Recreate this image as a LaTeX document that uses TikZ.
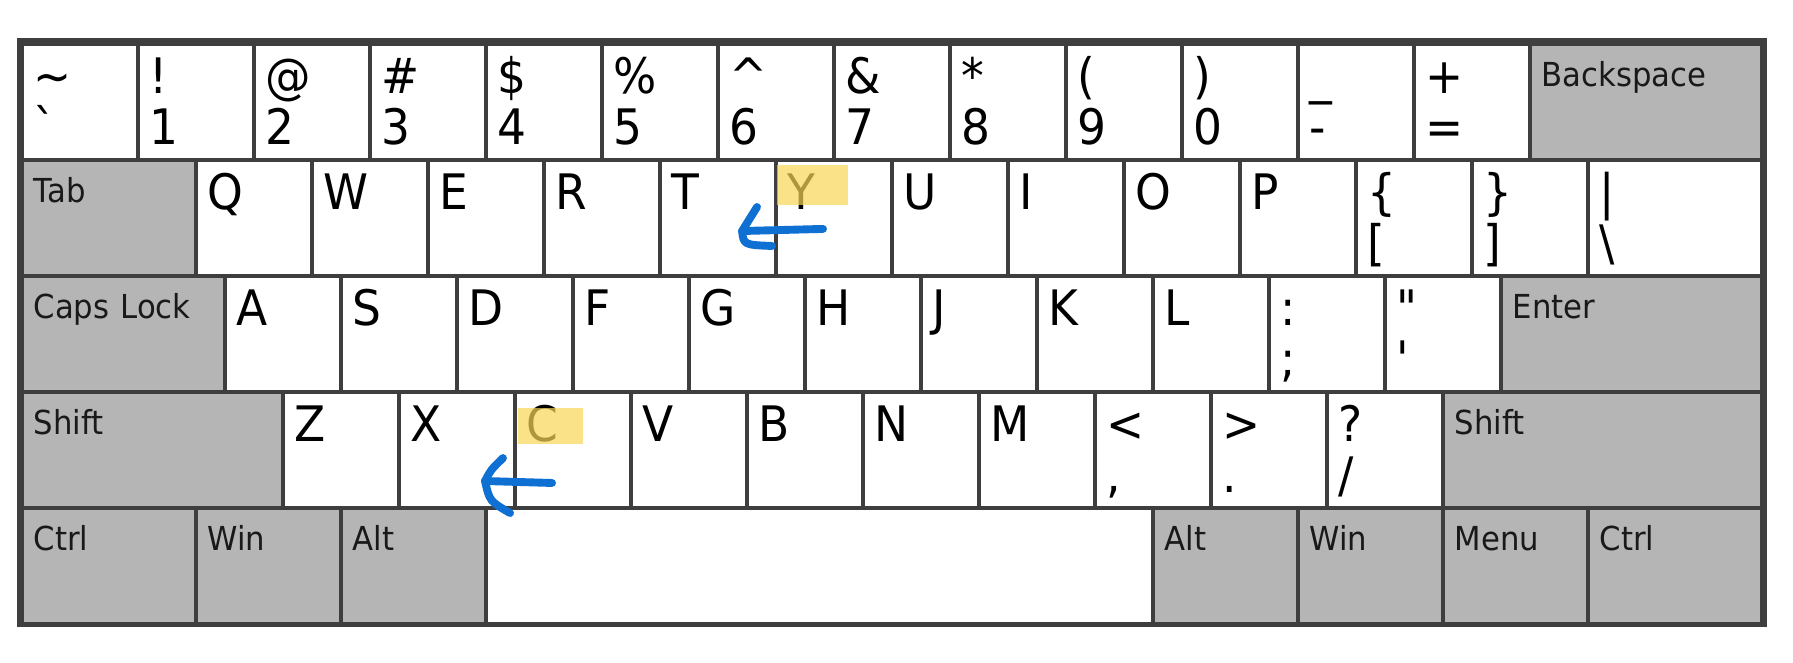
\documentclass[tikz,border=0pt]{standalone}
\usepackage{fontspec}
\setmainfont{DejaVu Sans}[FakeStretch=0.93]
\usepackage{tikz}
\definecolor{boardgray}{RGB}{62,62,62}
\definecolor{modgray}{RGB}{181,181,181}
\definecolor{markyellow}{RGB}{248,214,88}
\definecolor{penblue}{RGB}{14,112,210}

\begin{document}
\begin{tikzpicture}
            % Define styles - one key is a filled box, its label sits in the top left corner
            \tikzstyle{key} = [anchor=north west,xshift=0.0172cm,yshift=-0.0172cm,fill=white,inner xsep=0.085cm,inner ysep=0pt,align=left,text height=0.414cm,text depth=0.5515cm,font=\fontsize{12}{12.5}\selectfont]
            \tikzstyle{modkey} = [key,fill=modgray,text=black!90,text height=0.3534cm,text depth=0.6121cm,font=\fontsize{8.1}{9}\selectfont]
            \tikzstyle{u1} = [text width=0.7955cm]
            \tikzstyle{u125} = [text width=1.0455cm]
            \tikzstyle{u15} = [text width=1.2955cm]
            \tikzstyle{u175} = [text width=1.5455cm]
            \tikzstyle{u2} = [text width=1.7955cm]
            \tikzstyle{u225} = [text width=2.0455cm]
            \tikzstyle{u275} = [text width=2.5455cm]
            \tikzstyle{u575} = [text width=5.5455cm]
            \tikzstyle{marker} = [fill=markyellow,opacity=0.7]
            \tikzstyle{pen} = [draw=penblue,line width=0.068cm,line cap=round,line join=round]
            % Page and board
            \path[use as bounding box,fill=white] (-0.181,0.3707) rectangle (15.276,-5.3448);
            \fill[boardgray] (-0.0345,0.0431) rectangle (15.052,-5.034);
            % Number row
            	\node (kTilde) at (0,0) [key,u1]{\textasciitilde\\\textasciigrave};
            	\node (k1) at (1,0) [key,u1]{!\\1};
            	\node (k2) at (2,0) [key,u1]{@\\2};
            	\node (k3) at (3,0) [key,u1]{\#\\3};
            	\node (k4) at (4,0) [key,u1]{\$\\4};
            	\node (k5) at (5,0) [key,u1]{\%\\5};
            	\node (k6) at (6,0) [key,u1]{\textasciicircum\\6};
            	\node (k7) at (7,0) [key,u1]{\&\\7};
            	\node (k8) at (8,0) [key,u1]{*\\8};
            	\node (k9) at (9,0) [key,u1]{(\\9};
            	\node (k0) at (10,0) [key,u1]{)\\0};
            	\node (kMinus) at (11,0) [key,u1]{\_\\-};
            	\node (kEqual) at (12,0) [key,u1]{+\\=};
            	\node (kBack) at (13,0) [modkey,u2]{Backspace};
            % Top letter row
            	\node (kTab) at (0,-1) [modkey,u15]{Tab};
            	\node (kQ) at (1.5,-1) [key,u1]{Q};
            	\node (kW) at (2.5,-1) [key,u1]{W};
            	\node (kE) at (3.5,-1) [key,u1]{E};
            	\node (kR) at (4.5,-1) [key,u1]{R};
            	\node (kT) at (5.5,-1) [key,u1]{T};
            	\node (kY) at (6.5,-1) [key,u1]{Y};
            	\node (kU) at (7.5,-1) [key,u1]{U};
            	\node (kI) at (8.5,-1) [key,u1]{I};
            	\node (kO) at (9.5,-1) [key,u1]{O};
            	\node (kP) at (10.5,-1) [key,u1]{P};
            	\node (kLBrace) at (11.5,-1) [key,u1]{\{\\{[}};
            	\node (kRBrace) at (12.5,-1) [key,u1]{\}\\]};
            	\node (kPipe) at (13.5,-1) [key,u15]{|\\\textbackslash};
            % Home row
            	\node (kCaps) at (0,-2) [modkey,u175]{Caps Lock};
            	\node (kA) at (1.75,-2) [key,u1]{A};
            	\node (kS) at (2.75,-2) [key,u1]{S};
            	\node (kD) at (3.75,-2) [key,u1]{D};
            	\node (kF) at (4.75,-2) [key,u1]{F};
            	\node (kG) at (5.75,-2) [key,u1]{G};
            	\node (kH) at (6.75,-2) [key,u1]{H};
            	\node (kJ) at (7.75,-2) [key,u1]{J};
            	\node (kK) at (8.75,-2) [key,u1]{K};
            	\node (kL) at (9.75,-2) [key,u1]{L};
            	\node (kColon) at (10.75,-2) [key,u1]{:\\;};
            	\node (kQuote) at (11.75,-2) [key,u1]{\textquotedbl\\\textquotesingle};
            	\node (kEnter) at (12.75,-2) [modkey,u225]{Enter};
            % Bottom letter row
            	\node (kLShift) at (0,-3) [modkey,u225]{Shift};
            	\node (kZ) at (2.25,-3) [key,u1]{Z};
            	\node (kX) at (3.25,-3) [key,u1]{X};
            	\node (kC) at (4.25,-3) [key,u1]{C};
            	\node (kV) at (5.25,-3) [key,u1]{V};
            	\node (kB) at (6.25,-3) [key,u1]{B};
            	\node (kN) at (7.25,-3) [key,u1]{N};
            	\node (kM) at (8.25,-3) [key,u1]{M};
            	\node (kComma) at (9.25,-3) [key,u1]{<\\,};
            	\node (kPeriod) at (10.25,-3) [key,u1]{>\\.};
            	\node (kSlash) at (11.25,-3) [key,u1]{?\\/};
            	\node (kRShift) at (12.25,-3) [modkey,u275]{Shift};
            % Space row
            	\node (kLCtrl) at (0,-4) [modkey,u15]{Ctrl};
            	\node (kLWin) at (1.5,-4) [modkey,u125]{Win};
            	\node (kLAlt) at (2.75,-4) [modkey,u125]{Alt};
            	\node (kSpace) at (4,-4) [key,u575]{};
            	\node (kRAlt) at (9.75,-4) [modkey,u125]{Alt};
            	\node (kRWin) at (11,-4) [modkey,u125]{Win};
            	\node (kMenu) at (12.25,-4) [modkey,u125]{Menu};
            	\node (kRCtrl) at (13.5,-4) [modkey,u15]{Ctrl};
            % Highlighter marks
            	\fill[marker] (6.517,-1.052) rectangle (7.129,-1.397);
            	\fill[marker] (4.284,-3.147) rectangle (4.845,-3.457);
            % Pen arrows
            	% Next to Y
            	\coordinate (penYtail) at (6.914,-1.603);
            	\coordinate (penYtip) at (6.216,-1.621);
            	\coordinate (penYtop) at (6.345,-1.414);
            	\coordinate (penYbot) at (6.474,-1.750);
            	\draw[pen] (penYtail) -- (penYtip);
            	\draw[pen] (penYtop) -- (penYtip) .. controls (6.23,-1.74) .. (penYbot);
            	% Next to C
            	\coordinate (penCtail) at (4.578,-3.793);
            	\coordinate (penCtip) at (4.0,-3.776);
            	\coordinate (penCtop) at (4.155,-3.578);
            	\coordinate (penCbot) at (4.216,-4.052);
            	\draw[pen] (penCtail) -- (penCtip);
            	\draw[pen] (penCtop) .. controls (4.05,-3.68) .. (penCtip) .. controls (4.04,-3.95) .. (penCbot);
\end{tikzpicture}
\end{document}
